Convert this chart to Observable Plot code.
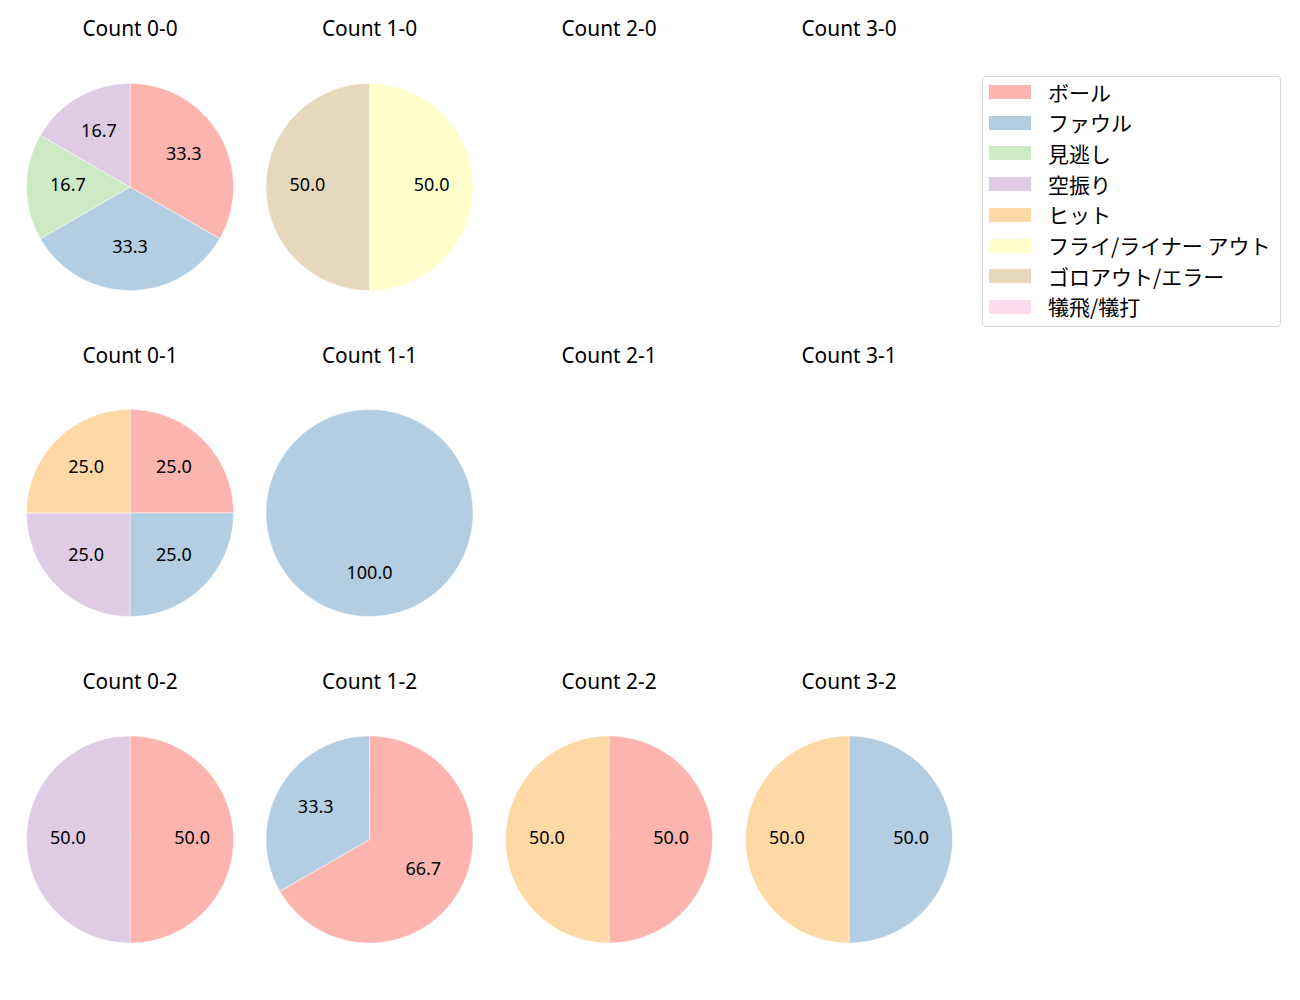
<!DOCTYPE html>
<html>
<head>
<meta charset="utf-8">
<script src="https://cdn.jsdelivr.net/npm/d3@7"></script>
<script src="https://cdn.jsdelivr.net/npm/@observablehq/plot@0.6"></script>
<style>
  body { margin: 0; background: white; font-family: "Noto Sans CJK JP", "Noto Sans", sans-serif; }
  #wrap { position: relative; width: 1300px; height: 1000px; }
  #legend { position: absolute; left: 982px; top: 76px; width: 297px; height: 249px;
            border: 1px solid #d6d6d6; border-radius: 4px; background: rgba(255,255,255,0.8); }
  .row { position: absolute; left: 0; height: 16px; display: flex; align-items: center; }
  .sw { width: 42px; height: 14px; margin-left: 6px; flex: none; }
  .lb { margin-left: 17px; font-size: 21px; line-height: 21px; color: #000; white-space: pre;
        font-family: "Noto Sans CJK JP", sans-serif; }
</style>
</head>
<body>
<div id="wrap"><div id="legend"></div></div>
<script>
const categories = ["ボール","ファウル","見逃し","空振り","ヒット","フライ/ライナー アウト","ゴロアウト/エラー","犠飛/犠打"];
const colors = ["#fbb4ae","#b3cde3","#ccebc5","#decbe4","#fed9a6","#ffffcc","#e5d8bd","#fddaec"];
const countTitles = ["Count 0-0","Count 1-0","Count 2-0","Count 3-0",
                     "Count 0-1","Count 1-1","Count 2-1","Count 3-1",
                     "Count 0-2","Count 1-2","Count 2-2","Count 3-2"];
// counts per category, in the order of countTitles
const ballVals    = [2,0,0,0, 1,0,0,0, 1,2,1,0];
const foulVals    = [2,0,0,0, 1,1,0,0, 0,1,0,1];
const lookVals    = [1,0,0,0, 0,0,0,0, 0,0,0,0];
const swingVals   = [1,0,0,0, 1,0,0,0, 1,0,0,0];
const hitVals     = [0,0,0,0, 1,0,0,0, 0,0,1,1];
const flyVals     = [0,1,0,0, 0,0,0,0, 0,0,0,0];
const groundVals  = [0,1,0,0, 0,0,0,0, 0,0,0,0];
const sacVals     = [0,0,0,0, 0,0,0,0, 0,0,0,0];
const seriesVals = [ballVals, foulVals, lookVals, swingVals, hitVals, flyVals, groundVals, sacVals];

// layout
const colX = [129.5, 369, 608.5, 848.5];
const rowY = [186.5, 512.5, 839];
const titleY = [28.5, 355.5, 681.5];
const R = 103.5;

const slicePts = [], labels = [], titles = [];
countTitles.forEach((t, k) => {
  const cx = colX[k % 4], cy = rowY[Math.floor(k / 4)];
  titles.push({x: cx, y: titleY[Math.floor(k / 4)], text: t});
  const vals = seriesVals.map(s => s[k]);
  const total = d3.sum(vals);
  if (!total) return;
  let a = 0;
  vals.forEach((v, i) => {
    if (!v) return;
    const frac = v / total;
    const a0 = a, a1 = a + frac * 2 * Math.PI;
    const id = k + "-" + i;
    const pt = ang => ({id, cat: categories[i], x: cx + R * Math.sin(ang), y: cy - R * Math.cos(ang)});
    if (frac < 1) slicePts.push({id, cat: categories[i], x: cx, y: cy});
    const n = Math.max(2, Math.ceil((a1 - a0) / (Math.PI / 360)));
    for (let j = 0; j <= n; j++) slicePts.push(pt(a0 + (a1 - a0) * j / n));
    if (frac < 1) slicePts.push({id, cat: categories[i], x: cx, y: cy});
    const am = (a0 + a1) / 2;
    labels.push({x: cx + 0.6 * R * Math.sin(am), y: cy - 0.6 * R * Math.cos(am), text: (frac * 100).toFixed(1)});
    a = a1;
  });
});

const chart = Plot.plot({
  width: 1300, height: 1000, margin: 0,
  x: {domain: [0, 1300], range: [0, 1300], axis: null},
  y: {domain: [0, 1000], range: [0, 1000], axis: null},
  color: {domain: categories, range: colors},
  style: {fontFamily: '"Noto Sans", "Noto Sans CJK JP", sans-serif', background: "white", color: "black"},
  marks: [
    Plot.line(slicePts, {x: "x", y: "y", z: "id", fill: "cat", stroke: "white", strokeWidth: 0.5, curve: "linear"}),
    Plot.text(labels, {x: "x", y: "y", text: "text", fontSize: 18, dy: -1.5, fill: "black"}),
    Plot.text(titles, {x: "x", y: "y", text: "text", fontSize: 20.9, fill: "black"})
  ]
});
document.getElementById("wrap").prepend(chart);

const legend = document.getElementById("legend");
categories.forEach((c, i) => {
  const row = document.createElement("div");
  row.className = "row";
  row.style.top = (92 - 77 - 8 + i * 30.7) + "px";
  const sw = document.createElement("div");
  sw.className = "sw"; sw.style.background = colors[i];
  const lb = document.createElement("div");
  lb.className = "lb"; lb.textContent = c;
  row.append(sw, lb);
  legend.append(row);
});
</script>
</body>
</html>
